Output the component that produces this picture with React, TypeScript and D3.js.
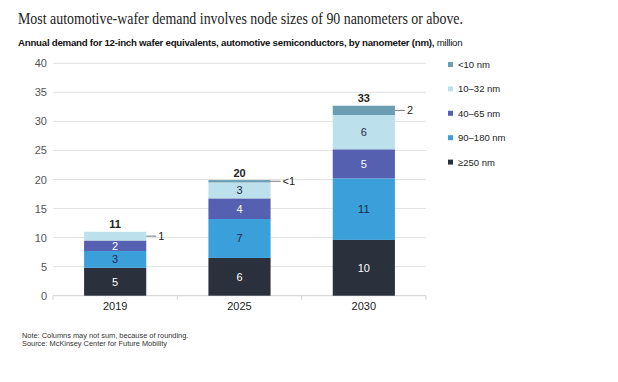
import React from "react";
import * as d3 from "d3";

const years = ["2019", "2025", "2030"];
const seriesNames = ["≥250 nm", "90–180 nm", "40–65 nm", "10–32 nm", "<10 nm"];
const ge250 = [4.8, 6.5, 9.6];
const nm90_180 = [2.9, 6.7, 10.6];
const nm40_65 = [1.8, 3.55, 5.0];
const nm10_32 = [1.5, 2.75, 5.9];
const lt10 = [0, 0.4, 1.6];
const segLabels = [
  ["5", "6", "10"],
  ["3", "7", "11"],
  ["2", "4", "5"],
  ["1", "3", "6"],
  ["", "<1", "2"],
];
const totals = ["11", "20", "33"];
const yTicks = [0, 5, 10, 15, 20, 25, 30, 35, 40];

const colors = ["#2b313c", "#3b9fd9", "#5560b0", "#bce1ec", "#6b9eb2"];
const labelColors = ["#ffffff", "#1d2b44", "#ffffff", "#1d2b44", "#1d2b44"];

const SANS = "'Liberation Sans', Arial, sans-serif";

export default function App() {
  const W = 618, H = 382;
  const allSeries = [ge250, nm90_180, nm40_65, nm10_32, lt10];
  const rows = years.map((y, i) => {
    const r: any = { year: y };
    seriesNames.forEach((s, k) => (r[s] = allSeries[k][i]));
    return r;
  });
  const stacked = d3.stack<any>().keys(seriesNames)(rows);
  const x = d3.scaleBand().domain(years).range([53, 426]).paddingInner(0.5).paddingOuter(0.25);
  const y = d3.scaleLinear().domain([0, 40]).range([295.7, 63.3]);
  const bw = x.bandwidth();

  const callouts = [
    { yi: 0, k: 3, text: "1" },
    { yi: 1, k: 4, text: "<1" },
    { yi: 2, k: 4, text: "2" },
  ];

  return (
    <svg width={W} height={H} style={{ position: "absolute", left: 0, top: 0, background: "#fff" }}>
      <text x={18} y={24} fontFamily="'Liberation Serif', 'Times New Roman', serif" fontSize={17} fill="#222"
        textLength={445} lengthAdjust="spacingAndGlyphs">
        Most automotive-wafer demand involves node sizes of 90 nanometers or above.
      </text>
      <text x={18} y={46} fontFamily={SANS} fontSize={9.7} fill="#111" letterSpacing={-0.25}>
        <tspan fontWeight="bold">Annual demand for 12-inch wafer equivalents, automotive semiconductors, by nanometer (nm),</tspan>
        <tspan> million</tspan>
      </text>

      {yTicks.map((t) => (
        <g key={t}>
          {t > 0 && <line x1={53} x2={426} y1={y(t)} y2={y(t)} stroke="#e2e2e2" strokeWidth={1} />}
          <text x={47} y={y(t) + 4} textAnchor="end" fontFamily={SANS} fontSize={11} fill="#555">
            {t}
          </text>
        </g>
      ))}
      <line x1={53} x2={426} y1={y(0)} y2={y(0)} stroke="#cfcfcf" />
      {[53, 177.3, 301.7, 426].map((tx, i) => (
        <line key={i} x1={tx} x2={tx} y1={y(0)} y2={y(0) + 4} stroke="#cfcfcf" />
      ))}
      {years.map((yr) => (
        <text key={yr} x={x(yr)! + bw / 2} y={310} textAnchor="middle" fontFamily={SANS} fontSize={11} fill="#222">
          {yr}
        </text>
      ))}

      {stacked.map((s, k) =>
        s.map((d, i) => {
          const h = y(d[0]) - y(d[1]);
          if (h <= 0) return null;
          const lbl = segLabels[k][i];
          const inside = !callouts.some((c) => c.yi === i && c.k === k);
          return (
            <g key={k + "-" + i}>
              <rect x={x(years[i])} y={y(d[1])} width={bw} height={h} fill={colors[k]} />
              {inside && lbl && (
                <text
                  x={x(years[i])! + bw / 2}
                  y={(y(d[0]) + y(d[1])) / 2 + 4}
                  textAnchor="middle"
                  fontFamily={SANS}
                  fontSize={11}
                  fill={labelColors[k]}
                >
                  {lbl}
                </text>
              )}
            </g>
          );
        })
      )}

      {callouts.map((c, j) => {
        const d = stacked[c.k][c.yi];
        const cy = (y(d[0]) + y(d[1])) / 2;
        const bx = x(years[c.yi])! + bw;
        return (
          <g key={j}>
            <line x1={bx} x2={bx + 10} y1={cy} y2={cy} stroke="#555" strokeWidth={0.8} />
            <text x={bx + 12} y={cy + 4} fontFamily={SANS} fontSize={11} fill="#222">
              {c.text}
            </text>
          </g>
        );
      })}

      {years.map((yr, i) => {
        const top = stacked[stacked.length - 1][i][1];
        return (
          <text key={yr} x={x(yr)! + bw / 2} y={y(top) - 3.5} textAnchor="middle" fontFamily={SANS} fontSize={11} fontWeight="bold" fill="#222">
            {totals[i]}
          </text>
        );
      })}

      {[4, 3, 2, 1, 0].map((k, j) => (
        <g key={k}>
          <rect x={448} y={62 + j * 24.4} width={5} height={5} fill={colors[k]} />
          <text x={458} y={68 + j * 24.4} fontFamily={SANS} fontSize={9.5} fill="#222">
            {seriesNames[k]}
          </text>
        </g>
      ))}

      <text x={22} y={338} fontFamily={SANS} fontSize={7.4} fill="#333">
        Note: Columns may not sum, because of rounding.
      </text>
      <text x={22} y={346} fontFamily={SANS} fontSize={7.4} fill="#333">
        Source: McKinsey Center for Future Mobility
      </text>
    </svg>
  );
}
